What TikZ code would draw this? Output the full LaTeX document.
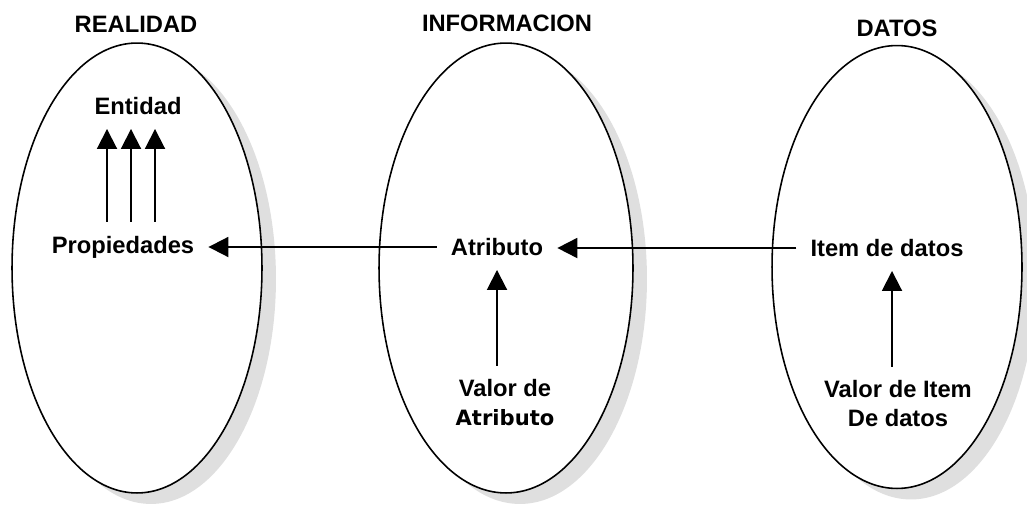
\documentclass[tikz,border=0pt]{standalone}
\usepackage{fontspec}
\setmainfont{Liberation Sans}
\newfontfamily\widefont{DejaVu Sans}
\usetikzlibrary{arrows.meta,shapes,positioning,shadows}

\begin{document}
\begin{tikzpicture}[x=0.02cm, y=-0.02cm]
    % Define styles
    \tikzset{
        esfera/.style={draw, line width=0.9pt, fill=white, ellipse,
            minimum width=5cm, minimum height=9cm, inner sep=0pt,
            drop shadow={shadow xshift=0.28cm, shadow yshift=-0.22cm, fill=gray!25, opacity=1}},
        titulo/.style={font=\bfseries\fontsize{13.5}{16}\selectfont},
        etiqueta/.style={font=\bfseries\fontsize{13.5}{16.5}\selectfont, align=center,
            inner sep=1pt, outer sep=0.25cm},
        flecha/.style={line width=1.1pt, -{Triangle[width=0.4cm,length=0.4cm]}}
    }
    \useasboundingbox (0,0) rectangle (1027,510);

    % Ellipses with shadow
    \node[esfera] (realidad) at (137,268) {};
    \node[esfera, minimum width=5.08cm] (informacion) at (506,268) {};
    \node[esfera, minimum height=8.86cm] (datos) at (897,267) {};

    % Titles
    \node[titulo] (treal) at (136,24) {REALIDAD};
    \node[titulo] (tinfo) at (507,23) {INFORMACION};
    \node[titulo] (tdatos) at (897,28) {DATOS};

    % Labels
    \node[etiqueta] (ent) at (138,106) {Entidad};
    \node[etiqueta] (prop) at (123,247) {Propiedades};
    \node[etiqueta] (atr) at (497,247) {Atributo};
    \node[etiqueta] (valatr) at (505,403) {Valor de\\{\widefont\fontsize{12}{16.5}\selectfont Atributo}};
    \node[etiqueta] (item) at (887,248) {Item de datos};
    \node[etiqueta] (valitem) at (898,404) {Valor de Item\\De datos};

    % Arrows
    \foreach \x in {107,131,155}
        \draw[flecha] (\x,0 |- prop.north) -- (\x,0 |- ent.south);
    \draw[flecha] (atr.west) -- (atr.west -| prop.east);
    \draw[flecha] (item.west) -- (item.west -| atr.east);
    \draw[flecha] (497,0 |- valatr.north) -- (497,0 |- atr.south);
    \draw[flecha] (892,0 |- valitem.north) -- (892,0 |- item.south);
\end{tikzpicture}
\end{document}
